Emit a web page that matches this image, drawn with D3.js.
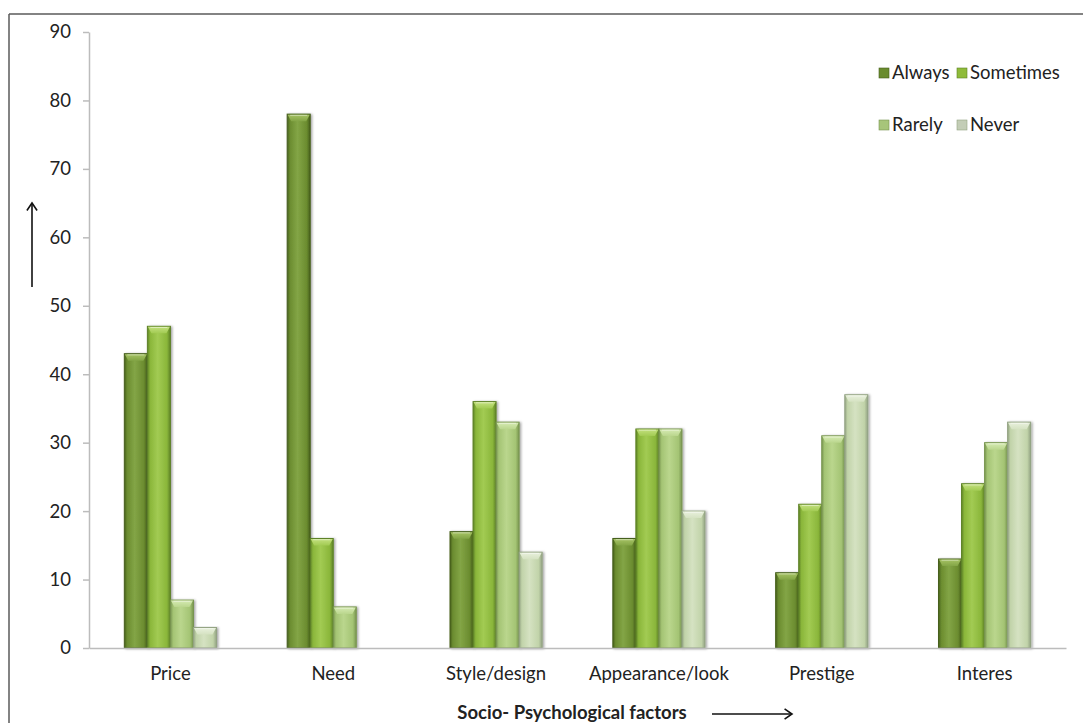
<!DOCTYPE html>
<html>
<head>
<meta charset="utf-8">
<script src="https://cdn.jsdelivr.net/npm/d3@7/dist/d3.min.js"></script>
<style>
  html, body { margin: 0; padding: 0; background: #fff; }
  svg { display: block; font-family: Lato, "Open Sans", sans-serif; }
</style>
</head>
<body>
<svg id="chart" width="1083" height="723"></svg>
<script>
// Response frequency per socio-psychological factor
const categories = ["Price", "Need", "Style/design", "Appearance/look", "Prestige", "Interes"];
const seriesNames = ["Always", "Sometimes", "Rarely", "Never"];
const always    = [43, 78, 17, 16, 11, 13];
const sometimes = [47, 16, 36, 32, 21, 24];
const rarely    = [7, 6, 33, 32, 31, 30];
const never     = [3, 0, 14, 20, 37, 33];
const yTicks = [0, 10, 20, 30, 40, 50, 60, 70, 80, 90];
const xTitle = "Socio- Psychological factors";

const seriesValues = [always, sometimes, rarely, never];
const palette = [
  { base: "#6b8c2f", light: "#83a546", dark: "#465f1c", cap: "#a6c364" },
  { base: "#8ab63a", light: "#a2cb53", dark: "#5e8227", cap: "#c3e07e" },
  { base: "#a4c474", light: "#bad68d", dark: "#789550", cap: "#d5eab2" },
  { base: "#c1d3a9", light: "#d5e2c2", dark: "#93a383", cap: "#e8f0dc" }
];
const legendColors = ["#6a8c2e", "#8fbb3a", "#a7c57a", "#c3cdb6"];

const svg = d3.select("#chart");
const margin = { left: 89, right: 1066, top: 32, bottom: 648 };

const x0 = d3.scaleBand().domain(categories)
  .range([margin.left, margin.right])
  .paddingInner(0.434).paddingOuter(0.217);
const x1 = d3.scaleBand().domain(seriesNames).range([0, x0.bandwidth()]);
const y = d3.scaleLinear().domain([0, 90]).range([margin.bottom, margin.top]);

// Gradients and shadow
const defs = svg.append("defs");
palette.forEach((c, i) => {
  const g = defs.append("linearGradient").attr("id", "grad" + i)
    .attr("x1", "0%").attr("x2", "100%").attr("y1", "0%").attr("y2", "0%");
  g.append("stop").attr("offset", "0%").attr("stop-color", c.dark);
  g.append("stop").attr("offset", "12%").attr("stop-color", c.base);
  g.append("stop").attr("offset", "45%").attr("stop-color", c.light);
  g.append("stop").attr("offset", "85%").attr("stop-color", c.base);
  g.append("stop").attr("offset", "100%").attr("stop-color", c.dark);
  const cg = defs.append("linearGradient").attr("id", "cap" + i)
    .attr("x1", "0%").attr("x2", "0%").attr("y1", "0%").attr("y2", "100%");
  cg.append("stop").attr("offset", "0%").attr("stop-color", c.cap);
  cg.append("stop").attr("offset", "100%").attr("stop-color", c.light);
});
const shadow = defs.append("filter").attr("id", "shadow")
  .attr("x", "-20%").attr("y", "-5%").attr("width", "150%").attr("height", "115%");
shadow.append("feDropShadow").attr("dx", 1.5).attr("dy", 0.5)
  .attr("stdDeviation", 1.2).attr("flood-color", "#000").attr("flood-opacity", 0.35);

// Frame lines
svg.append("line").attr("x1", 9).attr("x2", 1083).attr("y1", 14).attr("y2", 14)
  .attr("stroke", "#5a5a5a").attr("stroke-width", 1.5);
svg.append("line").attr("x1", 9).attr("x2", 9).attr("y1", 14).attr("y2", 723)
  .attr("stroke", "#5a5a5a").attr("stroke-width", 1.5);

// Y axis
const yAxis = svg.append("g").attr("transform", `translate(${margin.left},0)`)
  .call(d3.axisLeft(y).tickValues(yTicks).tickSize(6).tickPadding(12).tickSizeOuter(0));
yAxis.select(".domain").attr("stroke", "#bcbcbc").attr("stroke-width", 1.5);
yAxis.selectAll(".tick line").attr("stroke", "#bcbcbc").attr("stroke-width", 1.5);
yAxis.selectAll("text").attr("font-size", 18.5).attr("fill", "#222")
  .attr("font-family", "Lato, sans-serif");

// Bars with bevelled tops
const groups = svg.append("g").selectAll("g").data(categories).join("g")
  .attr("transform", d => `translate(${x0(d)},0)`);

groups.each(function(cat, ci) {
  const g = d3.select(this);
  seriesNames.forEach((s, si) => {
    const v = seriesValues[si][ci];
    if (!v) return;
    const bx = x1(s), bw = x1.bandwidth();
    const top = y(v), h = y(0) - y(v);
    const bar = g.append("g").attr("filter", "url(#shadow)");
    bar.append("rect").attr("x", bx).attr("y", top).attr("width", bw).attr("height", h)
      .attr("fill", `url(#grad${si})`).attr("stroke", palette[si].dark).attr("stroke-width", 1);
    const capH = Math.min(7, h);
    bar.append("path")
      .attr("d", `M${bx + 0.5},${top + 0.5} L${bx + bw - 0.5},${top + 0.5} L${bx + bw - 4},${top + capH} L${bx + 4},${top + capH} Z`)
      .attr("fill", `url(#cap${si})`);
    bar.append("line").attr("x1", bx + 3).attr("x2", bx + bw - 3)
      .attr("y1", top + 1.2).attr("y2", top + 1.2)
      .attr("stroke", "#ffffff").attr("stroke-opacity", 0.45).attr("stroke-width", 1);
  });
});

// X axis
const xAxis = svg.append("g").attr("transform", `translate(0,${margin.bottom})`)
  .call(d3.axisBottom(x0).tickSize(0).tickPadding(19));
xAxis.select(".domain").attr("stroke", "#bcbcbc").attr("stroke-width", 1.5);
xAxis.selectAll("text").attr("font-size", 18.5).attr("fill", "#222")
  .attr("font-family", "Lato, sans-serif");

// Axis title and arrows
svg.append("text").attr("x", 572).attr("y", 719).attr("text-anchor", "middle")
  .attr("font-size", 18.5).attr("font-weight", "bold").attr("fill", "#222").text(xTitle);

function arrow(x1a, y1a, x2a, y2a) {
  const ang = Math.atan2(y2a - y1a, x2a - x1a), L = 9, spread = 0.6;
  svg.append("line").attr("x1", x1a).attr("y1", y1a).attr("x2", x2a).attr("y2", y2a)
    .attr("stroke", "#111").attr("stroke-width", 1.6);
  svg.append("path")
    .attr("d", `M${x2a - L * Math.cos(ang - spread)},${y2a - L * Math.sin(ang - spread)} L${x2a},${y2a} L${x2a - L * Math.cos(ang + spread)},${y2a - L * Math.sin(ang + spread)}`)
    .attr("fill", "none").attr("stroke", "#111").attr("stroke-width", 1.6);
}
arrow(32, 287, 32, 203);
arrow(712, 714, 792, 714);

// Legend
const legendPos = [[879, 73], [957, 73], [879, 125], [957, 125]];
seriesNames.forEach((s, i) => {
  const [lx, ly] = legendPos[i];
  svg.append("rect").attr("x", lx).attr("y", ly - 5).attr("width", 10).attr("height", 10)
    .attr("fill", legendColors[i]).attr("stroke", palette[i].dark).attr("stroke-width", 0.6);
  svg.append("text").attr("x", lx + 13).attr("y", ly).attr("dy", "0.35em")
    .attr("font-size", 18.5).attr("fill", "#222").text(s);
});
</script>
</body>
</html>
